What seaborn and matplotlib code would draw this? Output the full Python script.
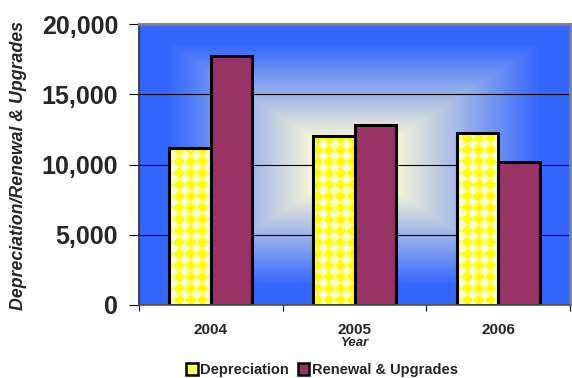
import numpy as np
import pandas as pd
import matplotlib
matplotlib.use("Agg")
import matplotlib.pyplot as plt
from matplotlib.patches import Patch
from matplotlib.colors import to_rgb
import seaborn as sns

years = ["2004", "2005", "2006"]
series = ["Depreciation", "Renewal & Upgrades"]
depreciation = [11200, 12000, 12250]
renewal = [17700, 12800, 10200]
y_ticks = [0, 5000, 10000, 15000, 20000]

df = pd.DataFrame({
    "Year": years * 2,
    "Series": [series[0]] * 3 + [series[1]] * 3,
    "Value": depreciation + renewal,
})

sns.set_theme(style="white")
plt.rcParams["font.family"] = ["Liberation Sans", "DejaVu Sans"]

W, H = 572, 378
fig = plt.figure(figsize=(W / 100, H / 100), dpi=100)
ax_l, ax_b, ax_w, ax_h = 139, 73, 431, 281
ax = fig.add_axes([ax_l / W, ax_b / H, ax_w / W, ax_h / H])

plum = "#993366"
sns.barplot(data=df, x="Year", y="Value", hue="Series",
            palette=["#FFFF00", plum], saturation=1, width=0.58, gap=0,
            edgecolor="black", linewidth=2.2, errorbar=None,
            legend=False, ax=ax)

# rectangular "from centre" gradient behind the plot
ss = 2
gx = (np.arange(ax_w * ss) + 0.5) / (ax_w * ss)
gy = (np.arange(ax_h * ss) + 0.5) / (ax_h * ss)
GX, GY = np.meshgrid(gx, gy)
d = np.maximum(np.abs(GX - 0.5), np.abs(GY - 0.5)) * 2
t = np.clip((d - 0.2) / 0.66, 0, 1) ** 1.0
c_in = np.array(to_rgb("#F4F4D6"))
c_out = np.array(to_rgb("#3366FF"))
grad = c_in[None, None, :] * (1 - t[..., None]) + c_out[None, None, :] * t[..., None]
ax.imshow(grad, extent=[0, 1, 0, 1], transform=ax.transAxes,
          aspect="auto", zorder=0.2, interpolation="antialiased")

# diamond check texture for the depreciation bars
ss2 = 3
px = (np.arange(ax_w * ss2) + 0.5) / ss2
py = (np.arange(ax_h * ss2) + 0.5) / ss2
PX, PY = np.meshgrid(px, py)
cell = 11.5
u = PX + PY
v = PX - PY
parity = (np.floor(u / cell) + np.floor(v / cell)) % 2
yellow = np.array(to_rgb("#FFFF00"))
cream = np.array(to_rgb("#FFFFCC"))
tex = np.where(parity[..., None] == 0, yellow, cream)

for bar in ax.containers[0]:
    bar.set_facecolor("none")
    bar.set_zorder(2)
    im = ax.imshow(tex, extent=[0, 1, 0, 1], transform=ax.transAxes,
                   aspect="auto", zorder=1.5, interpolation="antialiased")
    im.set_clip_path(bar)
for bar in ax.containers[1]:
    bar.set_zorder(2)

ax.set_xlim(-0.5, 2.5)
ax.set_ylim(0, 20000)
ax.set_aspect("auto")

# gridlines and axes
ax.set_yticks(y_ticks)
ax.set_yticklabels([f"{v:,}" for v in y_ticks], fontsize=18, fontweight="bold")
ax.yaxis.grid(True, color="black", lw=0.8)
ax.set_axisbelow(True)
for gl in ax.get_ygridlines():
    gl.set_zorder(0.5)
ax.tick_params(axis="y", which="major", left=True, length=7, width=0.8,
               color="black", pad=8)

ax.set_xticks(range(3))
ax.set_xticklabels(years, fontsize=11, fontweight="bold")
ax.set_xticks([-0.5, 0.5, 1.5, 2.5], minor=True)
ax.tick_params(axis="x", which="major", length=0, pad=13)
ax.tick_params(axis="x", which="minor", bottom=True, length=4, width=0.8,
               color="black")

ax.set_xlabel("")
ax.set_ylabel("")
for side in ["top", "right"]:
    ax.spines[side].set_color("#808080")
    ax.spines[side].set_linewidth(2)
ax.spines["left"].set_color("#303030")
ax.spines["left"].set_linewidth(1.2)
ax.spines["bottom"].set_color("#505050")
ax.spines["bottom"].set_linewidth(1.2)
for s in ax.spines.values():
    s.set_zorder(3)

fig.text(19 / W, 1 - 166 / H, "Depreciation/Renewal & Upgrades",
         rotation=90, ha="center", va="center", fontsize=12.8,
         fontweight="bold", fontstyle="italic")
fig.text(355 / W, 1 - 346 / H, "Year", ha="center", va="baseline",
         fontsize=9.5, fontweight="bold", fontstyle="italic")

handles = [
    Patch(facecolor="#FFFF55", edgecolor="black", linewidth=1.8),
    Patch(facecolor=plum, edgecolor="black", linewidth=1.8),
]
fig.legend(handles, series, loc="center", bbox_to_anchor=(322 / W, 1 - 370 / H),
           ncol=2, frameon=False, prop={"weight": "bold", "size": 10.5},
           handlelength=0.8, handleheight=0.8, handletextpad=0.15,
           columnspacing=0.6, borderpad=0)

fig.savefig("out.png", dpi=100)
